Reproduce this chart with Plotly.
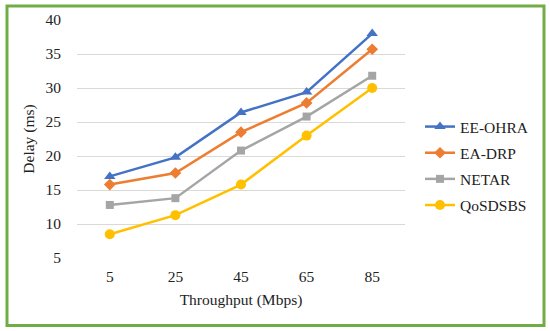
import plotly.graph_objects as go

categories = ["5", "25", "45", "65", "85"]
ee_ohra = [17.0, 19.8, 26.4, 29.4, 38.0]
ea_drp = [15.8, 17.5, 23.5, 27.8, 35.7]
netar = [12.8, 13.8, 20.8, 25.8, 31.8]
qosdsbs = [8.5, 11.3, 15.8, 23.0, 30.0]

series = [
    ("EE-OHRA", ee_ohra, "#4472C4", "triangle-up", 10),
    ("EA-DRP", ea_drp, "#ED7D31", "diamond", 9),
    ("NETAR", netar, "#A5A5A5", "square", 8),
    ("QoSDSBS", qosdsbs, "#FFC000", "circle", 10),
]

FONT = "Liberation Serif, Times New Roman, serif"
FS = 15.5

fig = go.Figure()
for i, (name, vals, color, sym, size) in enumerate(series):
    fig.add_trace(go.Scatter(
        x=categories, y=vals, name=name, mode="lines+markers",
        line=dict(color=color, width=2.5),
        marker=dict(symbol=sym, size=size, color=color),
        legendgroup=name,
    ))

W, H = 550, 331
L, R, T, B = 77, 145, 20, 73
pw, ph = W - L - R, H - T - B

def px_x(p):
    return (p - L) / pw

def px_y(p):
    return (H - B - p) / ph

fig.add_shape(type="rect", xref="paper", yref="paper",
              x0=px_x(7), x1=px_x(544), y0=px_y(325.5), y1=px_y(6),
              line=dict(color="#70AD47", width=3), fillcolor="rgba(0,0,0,0)")

fig.update_layout(
    width=W, height=H,
    margin=dict(l=L, r=R, t=T, b=B),
    paper_bgcolor="white", plot_bgcolor="white",
    font=dict(family=FONT, size=FS, color="#222222"),
    showlegend=True,
    legend=dict(x=px_x(420), y=px_y(110), xanchor="left", yanchor="top",
                traceorder="grouped", tracegroupgap=3,
                font=dict(family=FONT, size=FS, color="#222222"),
                bgcolor="rgba(0,0,0,0)"),
    xaxis=dict(type="category", range=[-0.5, 4.5], showgrid=False,
               showline=False, zeroline=False,
               ticks="outside", ticklen=4, tickcolor="rgba(0,0,0,0)",
               title=dict(text="Throughput (Mbps)", standoff=10,
                          font=dict(family=FONT, size=FS))),
    yaxis=dict(range=[5, 40], dtick=5, tick0=5, showgrid=True,
               gridcolor="#D9D9D9", gridwidth=1, zeroline=False, showline=False,
               ticks="outside", ticklen=12, tickcolor="rgba(0,0,0,0)",
               title=dict(text="Delay (ms)", standoff=6,
                          font=dict(family=FONT, size=FS))),
)

fig.write_html("out.html", config={"displayModeBar": False},
               post_script="document.body.style.margin='0';document.body.style.padding='0';")
